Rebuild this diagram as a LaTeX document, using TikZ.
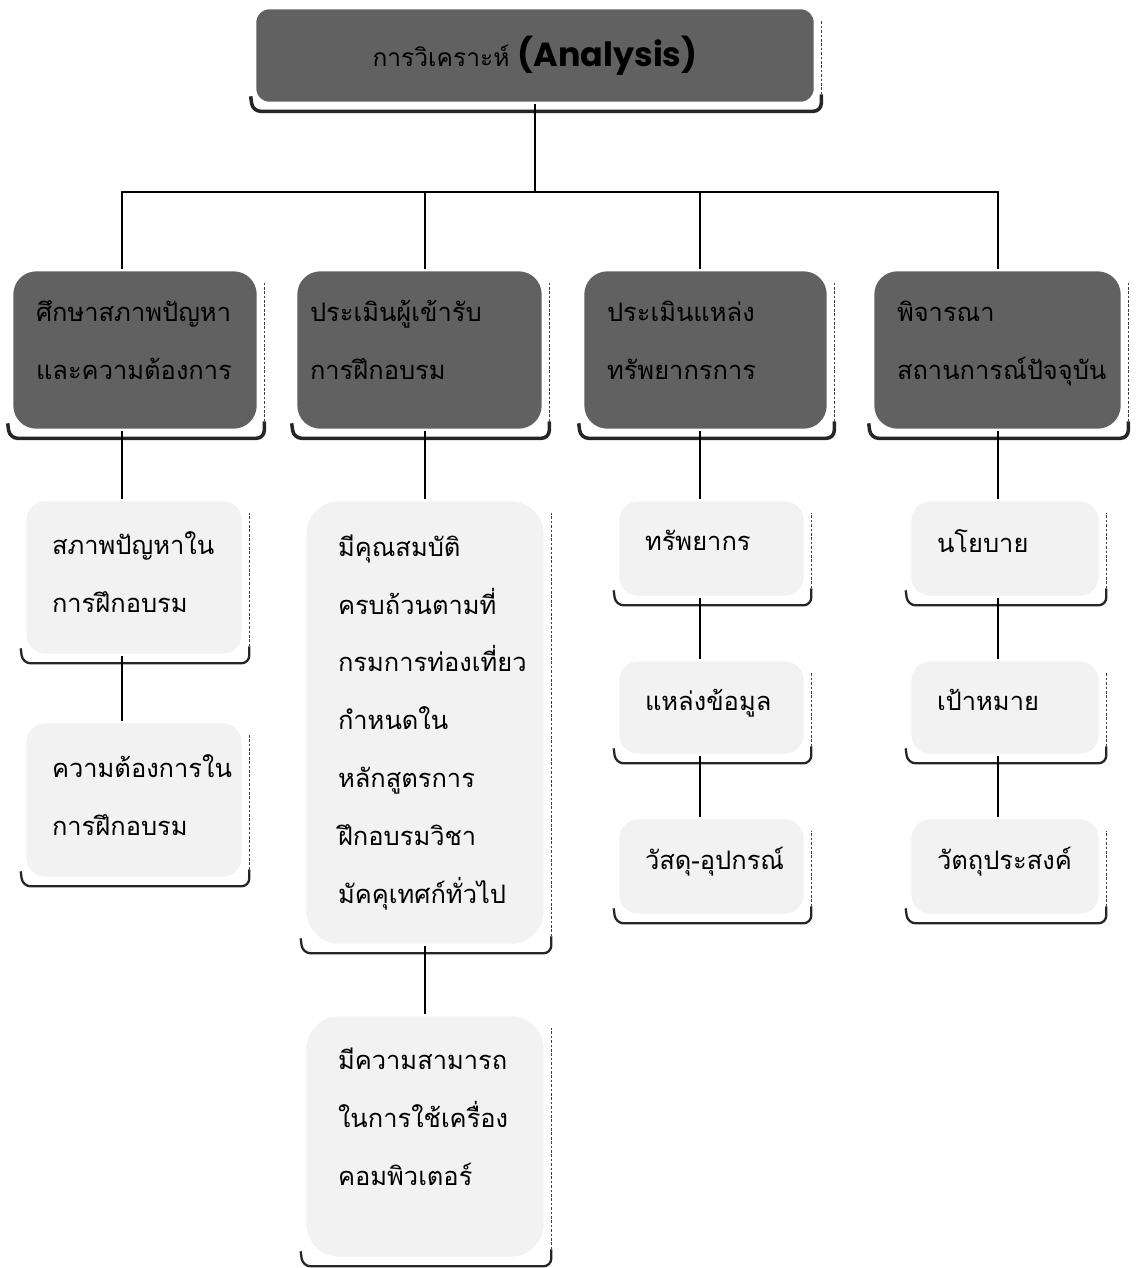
\documentclass[tikz,border=0pt]{standalone}
\usepackage{fontspec}
\newfontfamily\thaifont[Script=Thai]{Loma}
\newfontfamily\latfont{Poppins}
\usetikzlibrary{calc,backgrounds}
\newdimen\pxu \pxu=0.02cm
\newcommand\mkshadow[2][1.6pt]{%
  \draw[line width=#1, black!85, rounded corners=8\pxu]
    ($(#2.south west)+(-3,-8)$) -- ($(#2.south west)+(-1,7)$) --
    ($(#2.south east)+(5,7)$) -- ($(#2.south east)+(5,-10)$);
  \draw[black!75, dash pattern=on 1.5pt off 1pt, line width=0.8pt]
    ($(#2.south east)+(5,-10)$) -- ($(#2.north east)+(5,14)$);}
\begin{document}
\begin{tikzpicture}[x=0.02cm,y=-0.02cm,
  darkbox/.style={rectangle, rounded corners=24\pxu, fill=black!62, draw=white, line width=1.5pt,
    inner xsep=24\pxu, inner ysep=0pt, align=left, font=\thaifont\fontsize{14.5}{33}\selectfont},
  lightbox/.style={rectangle, rounded corners=20\pxu, fill=black!5, draw=white, line width=1.5pt,
    inner xsep=27\pxu, inner ysep=0pt, align=left, font=\thaifont\fontsize{14.5}{33}\selectfont},
  conn/.style={draw=black, line width=1pt}]
\useasboundingbox (0,0) rectangle (1140,1268);
% columns
\coordinate (k1) at (122,0);
\coordinate (k2) at (425,0);
\coordinate (k3) at (700,0);
\coordinate (k4) at (998,0);
\coordinate (j) at (535,192);
% top
\node[darkbox, rounded corners=14\pxu, minimum width=560\pxu, minimum height=95\pxu, align=center] (top) at (535,55.5)
  {\thaifont\fontsize{14}{16}\selectfont การวิเคราะห์ {\latfont\bfseries\fontsize{19}{20}\selectfont (Analysis)}};
% level 2
\node[darkbox, text width=198\pxu, minimum height=160\pxu] (b1) at (135,350) {ศึกษาสภาพปัญหา\\และความต้องการ\\[-21.6pt]\mbox{}};
\node[darkbox, text width=219\pxu, minimum height=160\pxu, inner xsep=14\pxu] (b2) at (419.5,350) {ประเมินผู้เข้ารับ\\การฝึกอบรม\\[-21.6pt]\mbox{}};
\node[darkbox, text width=197\pxu, minimum height=160\pxu] (b3) at (705.5,350) {ประเมินแหล่ง\\ทรัพยากรการ\\[-21.6pt]\mbox{}};
\node[darkbox, text width=201\pxu, minimum height=160\pxu] (b4) at (997.5,350) {พิจารณา\\สถานการณ์ปัจจุบัน\\[-21.6pt]\mbox{}};
% level 3
\node[lightbox, text width=164\pxu, minimum height=155\pxu] (c1a) at (134,577.5) {สภาพปัญหาใน\\การฝึกอบรม\\[-27pt]\mbox{}};
\node[lightbox, text width=164\pxu, minimum height=156\pxu] (c1b) at (134,800) {ความต้องการใน\\การฝึกอบรม\\[-27pt]\mbox{}};
\node[lightbox, rounded corners=34\pxu, inner xsep=33\pxu, text width=174\pxu, minimum height=445\pxu] (c2a) at (425,722.5)
  {มีคุณสมบัติ\\ครบถ้วนตามที่\\กรมการท่องเที่ยว\\กำหนดใน\\หลักสูตรการ\\ฝึกอบรมวิชา\\มัคคุเทศก์ทั่วไป};
\node[lightbox, rounded corners=34\pxu, inner xsep=33\pxu, text width=174\pxu, minimum height=243\pxu] (c2b) at (425,1136.5)
  {มีความสามารถ\\ในการใช้เครื่อง\\คอมพิวเตอร์\\[-10pt]\mbox{}};
\node[lightbox, text width=133\pxu, minimum height=97\pxu] (c3a) at (711.5,548.5) {ทรัพยากร\\[-24pt]\mbox{}};
\node[lightbox, text width=133\pxu, minimum height=95\pxu] (c3b) at (711.5,707.5) {แหล่งข้อมูล\\[-24pt]\mbox{}};
\node[lightbox, text width=133\pxu, minimum height=97\pxu] (c3c) at (711.5,866.5) {\mbox{วัสดุ-อุปกรณ์}\\[-24pt]\mbox{}};
\node[lightbox, text width=136\pxu, minimum height=97\pxu] (c4a) at (1005,548.5) {นโยบาย\\[-24pt]\mbox{}};
\node[lightbox, text width=136\pxu, minimum height=95\pxu] (c4b) at (1005,707.5) {เป้าหมาย\\[-24pt]\mbox{}};
\node[lightbox, text width=136\pxu, minimum height=97\pxu] (c4c) at (1005,866.5) {วัตถุประสงค์\\[-24pt]\mbox{}};
% shadows
\begin{scope}[on background layer]
  \mkshadow[2pt]{top}
  \mkshadow[2pt]{b1}\mkshadow[2pt]{b2}\mkshadow[2pt]{b3}\mkshadow[2pt]{b4}
  \mkshadow[1.3pt]{c1a}\mkshadow[1.3pt]{c1b}\mkshadow[1.3pt]{c2a}\mkshadow[1.3pt]{c2b}
  \mkshadow[1.3pt]{c3a}\mkshadow[1.3pt]{c3b}\mkshadow[1.3pt]{c3c}
  \mkshadow[1.3pt]{c4a}\mkshadow[1.3pt]{c4b}\mkshadow[1.3pt]{c4c}
\end{scope}
% connectors
\draw[conn] (top.south) -- (j);
\draw[conn] (b1.north -| k1) |- (j) -| (b4.north -| k4);
\draw[conn] (b2.north -| k2) -- (j -| k2);
\draw[conn] (b3.north -| k3) -- (j -| k3);
\draw[conn] (b1.south -| k1) -- (c1a.north -| k1);
\draw[conn] (c1a.south -| k1) -- (c1b.north -| k1);
\draw[conn] (b2.south -| k2) -- (c2a.north -| k2);
\draw[conn] (c2a.south -| k2) -- (c2b.north -| k2);
\draw[conn] (b3.south -| k3) -- (c3a.north -| k3);
\draw[conn] (c3a.south -| k3) -- (c3b.north -| k3);
\draw[conn] (c3b.south -| k3) -- (c3c.north -| k3);
\draw[conn] (b4.south -| k4) -- (c4a.north -| k4);
\draw[conn] (c4a.south -| k4) -- (c4b.north -| k4);
\draw[conn] (c4b.south -| k4) -- (c4c.north -| k4);
\end{tikzpicture}
\end{document}
